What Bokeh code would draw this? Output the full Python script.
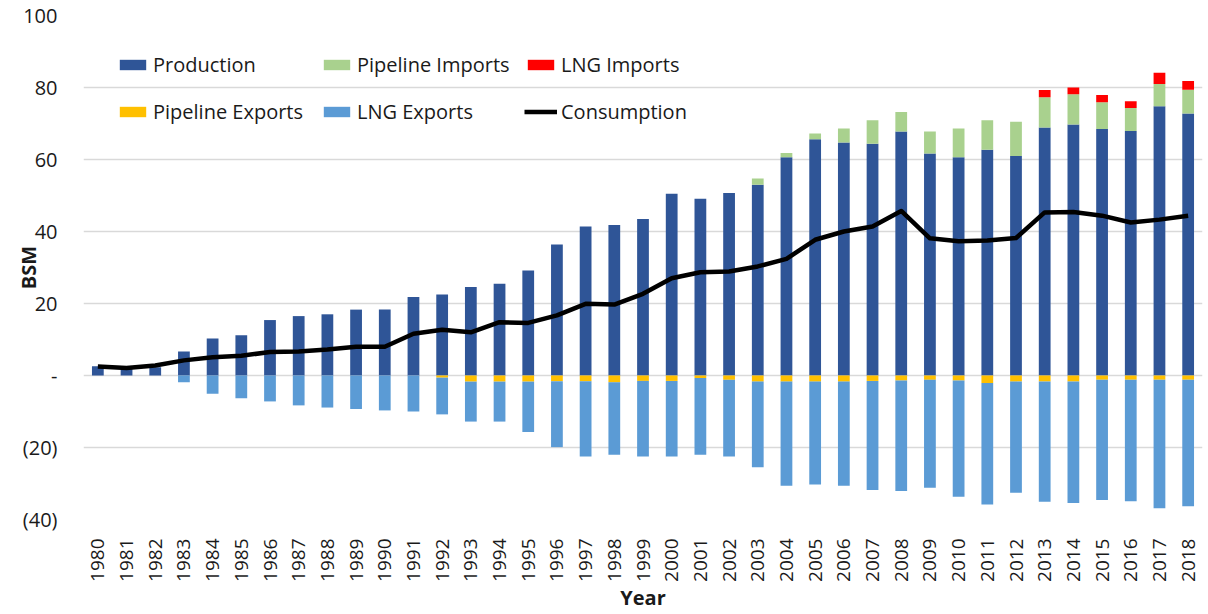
import math
from bokeh.plotting import figure
from bokeh.models import (ColumnDataSource, FactorRange, FixedTicker, Legend, LegendItem)
from bokeh.embed import file_html
from bokeh.resources import INLINE

years = [str(y) for y in range(1980, 2019)]

production = [2.6, 2.0, 2.3, 6.7, 10.3, 11.2, 15.4, 16.5, 17.0, 18.3,
              18.3, 21.8, 22.5, 24.6, 25.5, 29.2, 36.4, 41.4, 41.8, 43.5,
              50.5, 49.1, 50.7, 53.0, 60.6, 65.6, 64.7, 64.4, 67.8, 61.7,
              60.6, 62.7, 61.0, 68.9, 69.7, 68.5, 67.9, 74.8, 72.8]
pipeline_imports = [0] * 23 + [1.7, 1.2, 1.6, 3.9, 6.5, 5.4, 6.1,
                               8.0, 8.2, 9.5, 8.4, 8.4, 7.4, 6.4, 6.2, 6.6]
lng_imports = [0] * 33 + [2.0, 1.9, 2.0, 1.9, 3.1, 2.4]
pipeline_exports = [0] * 12 + [0.6, 1.7, 1.7, 1.7, 1.6, 1.6, 1.9, 1.5,
                               1.5, 0.7, 1.2, 1.7, 1.7, 1.7, 1.7, 1.5, 1.4, 1.2,
                               1.4, 2.1, 1.7, 1.7, 1.7, 1.2, 1.2, 1.2, 1.2]
lng_exports = [0, 0, 0, 1.9, 5.1, 6.3, 7.2, 8.3, 8.9, 9.3,
               9.7, 10.0, 10.2, 11.1, 11.1, 14.0, 18.3, 20.9, 20.1, 21.0,
               21.0, 21.3, 21.3, 23.8, 28.9, 28.6, 28.9, 30.3, 30.7, 30.0,
               32.3, 33.7, 30.9, 33.4, 33.7, 33.4, 33.7, 35.7, 35.1]
consumption = [2.5, 2.1, 2.8, 4.2, 5.1, 5.5, 6.5, 6.7, 7.2, 8.0,
               8.0, 11.6, 12.7, 12.0, 14.8, 14.6, 16.7, 19.9, 19.7, 22.7,
               27.0, 28.7, 28.9, 30.3, 32.4, 37.7, 40.0, 41.4, 45.7, 38.1,
               37.3, 37.5, 38.2, 45.3, 45.4, 44.4, 42.5, 43.3, 44.4]

y_ticks = [-40, -20, 0, 20, 40, 60, 80, 100]
y_tick_labels = {-40: "(40)", -20: "(20)", 0: "-"}

source = ColumnDataSource(dict(
    year=years,
    production=production,
    pipeline_imports=pipeline_imports,
    lng_imports=lng_imports,
    pipeline_exports=[-v for v in pipeline_exports],
    lng_exports=[-v for v in lng_exports],
    consumption=consumption,
))

FONT = "Open Sans"
TXT = "#1a1a1a"

p = figure(width=1208, height=614, x_range=FactorRange(factors=years, range_padding=0),
           y_range=(-40, 100), output_backend="svg", toolbar_location=None,
           min_border_left=83, min_border_right=6, min_border_top=15, min_border_bottom=95)
p.outline_line_color = None
p.background_fill_color = "white"
p.border_fill_color = "white"

pos = p.vbar_stack(["production", "pipeline_imports", "lng_imports"], x="year", width=0.41,
                   color=["#2F5597", "#A9D18E", "#FF0000"], line_color=None, source=source)
neg = p.vbar_stack(["pipeline_exports", "lng_exports"], x="year", width=0.41,
                   color=["#FFC000", "#5B9BD5"], line_color=None, source=source)
cons = p.line(x="year", y="consumption", line_width=4.5, line_color="black",
              line_join="round", source=source)

p.xgrid.grid_line_color = None
p.ygrid.grid_line_color = "#D9D9D9"
p.ygrid.grid_line_width = 1.5

p.yaxis.ticker = FixedTicker(ticks=y_ticks)
p.yaxis.major_label_overrides = y_tick_labels
for ax in (p.xaxis, p.yaxis):
    ax.axis_line_color = None
    ax.major_tick_line_color = None
    ax.minor_tick_line_color = None
    ax.major_label_text_font = FONT
    ax.major_label_text_color = TXT
    ax.axis_label_text_font = FONT
    ax.axis_label_text_font_style = "bold"
    ax.axis_label_text_font_size = "20px"
    ax.axis_label_text_color = TXT

p.yaxis.major_label_text_font_size = "20px"
p.yaxis.major_label_standoff = 20
p.yaxis.axis_label = "BSM"
p.yaxis.axis_label_standoff = -22

p.xaxis.major_label_text_font_size = "19px"
p.xaxis.major_label_orientation = math.pi / 2
p.xaxis.major_label_standoff = 13
p.xaxis.axis_label = "Year"
p.xaxis.axis_label_standoff = -1


def make_legend(items, loc):
    leg = Legend(items=items, orientation="horizontal", location=loc,
                 glyph_width=33, glyph_height=13, label_standoff=4, label_width=167,
                 spacing=0, padding=0, margin=0, border_line_color=None,
                 background_fill_alpha=0, label_text_font=FONT,
                 label_text_font_size="20px", label_text_color=TXT)
    return leg


leg1 = make_legend([LegendItem(label="Production", renderers=[pos[0]]),
                    LegendItem(label="Pipeline Imports", renderers=[pos[1]]),
                    LegendItem(label="LNG Imports", renderers=[pos[2]])], (33, 441))
leg2 = make_legend([LegendItem(label="Pipeline Exports", renderers=[neg[0]]),
                    LegendItem(label="LNG Exports", renderers=[neg[1]]),
                    LegendItem(label="Consumption", renderers=[cons])], (33, 394))
p.add_layout(leg1)
p.add_layout(leg2)

open("out.html", "w").write(file_html(p, INLINE))
